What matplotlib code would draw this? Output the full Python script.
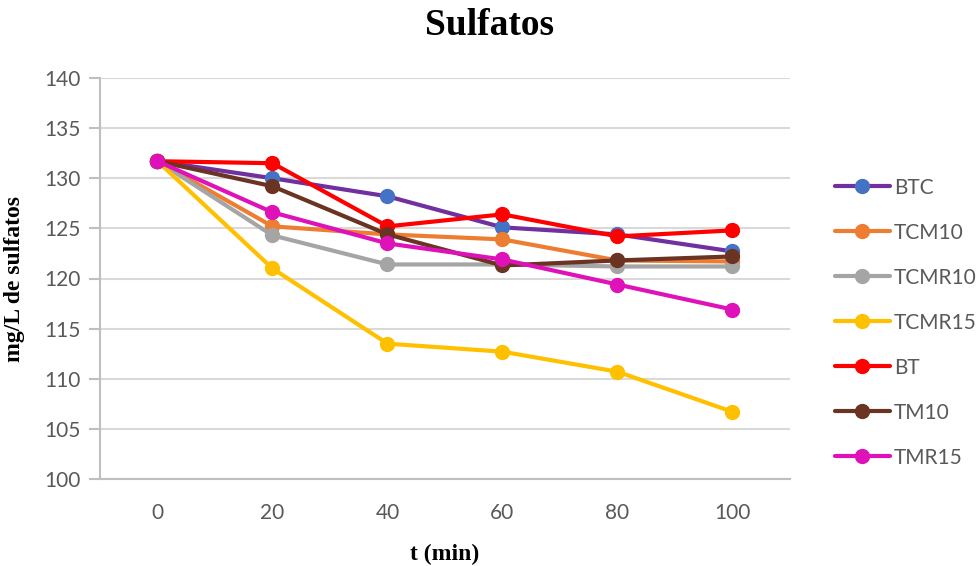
import numpy as np
import matplotlib.pyplot as plt

# concentración de sulfatos (mg/L) frente al tiempo para cada tratamiento
t = [0, 20, 40, 60, 80, 100]

btc = [131.7, 130.0, 128.2, 125.1, 124.4, 122.7]
tcm10 = [131.7, 125.2, 124.4, 123.9, 121.8, 121.7]
tcmr10 = [131.7, 124.3, 121.4, 121.4, 121.2, 121.2]
tcmr15 = [131.7, 121.0, 113.5, 112.7, 110.7, 106.7]
bt = [131.7, 131.5, 125.2, 126.4, 124.2, 124.8]
tm10 = [131.7, 129.2, 124.4, 121.3, 121.8, 122.2]
tmr15 = [131.7, 126.6, 123.5, 121.9, 119.4, 116.9]

series = [
    ('BTC', btc, '#7030A0', '#4472C4'),
    ('TCM10', tcm10, '#ED7D31', '#ED7D31'),
    ('TCMR10', tcmr10, '#A5A5A5', '#A5A5A5'),
    ('TCMR15', tcmr15, '#FFC000', '#FFC000'),
    ('BT', bt, '#FF0000', '#FF0000'),
    ('TM10', tm10, '#6B3322', '#6B3322'),
    ('TMR15', tmr15, '#DE12B8', '#DE12B8'),
]

fig = plt.figure(figsize=(9.79, 5.66), dpi=100)
ax = fig.add_axes([100/979, 87/566, 690/979, 401/566])

x = np.arange(len(t))
for nombre, y, c_linea, c_marca in series:
    ax.plot(x, y, color=c_linea, lw=3, marker='o', ms=10,
            markerfacecolor=c_marca, markeredgecolor=c_marca,
            label=nombre, solid_capstyle='round')

ax.set_xlim(-0.5, len(t) - 0.5)
ax.set_ylim(100, 140)
ax.set_yticks(np.arange(100, 141, 5))
ax.set_xticks(x)
ax.set_xticklabels([str(v) for v in t])

ax.grid(axis='y', color='#D9D9D9', lw=1.5)
ax.set_axisbelow(True)
for s in ['top', 'right']:
    ax.spines[s].set_visible(False)
for s in ['left', 'bottom']:
    ax.spines[s].set_color('#BFBFBF')
    ax.spines[s].set_linewidth(1.5)

ax.tick_params(axis='y', length=8, width=1.5, color='#BFBFBF', labelsize=15,
               labelcolor='#595959', pad=6)
ax.tick_params(axis='x', length=0, labelsize=15, labelcolor='#595959', pad=17)
for lab in ax.get_xticklabels() + ax.get_yticklabels():
    lab.set_family('Lato')

serif = 'Liberation Serif'
fig.text(0.5, 0.955, 'Sulfatos', ha='center', va='center', fontsize=27,
         fontweight='bold', family=serif)
ax.set_xlabel('t (min)', fontsize=17, fontweight='bold', family=serif, labelpad=15)
ax.set_ylabel('mg/L de sulfatos', fontsize=17, fontweight='bold', family=serif, labelpad=14)

leg = fig.legend(loc='upper left', bbox_to_anchor=(816/979, 1 - 159/566), frameon=False,
                 prop={'family': 'Lato', 'size': 15}, labelcolor='#595959',
                 handlelength=2.65, handletextpad=0.2, labelspacing=1.2)

fig.savefig('out.png', dpi=100)
